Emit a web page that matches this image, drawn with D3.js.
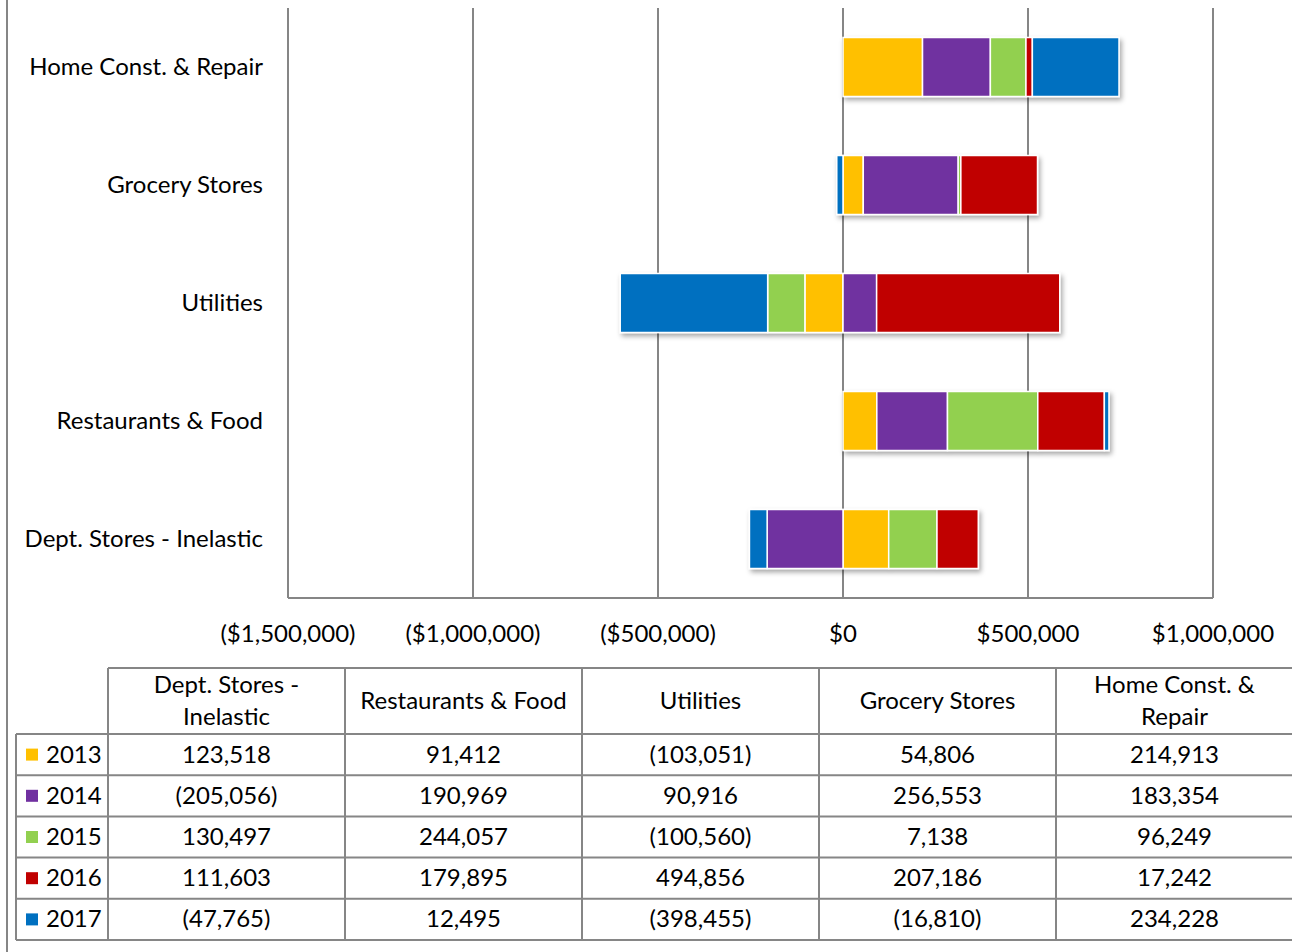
<!DOCTYPE html>
<html>
<head>
<meta charset="utf-8">
<script src="https://cdn.jsdelivr.net/npm/d3@7"></script>
<style>
  body { margin: 0; background: #fff; }
  svg text { font-family: Lato, "Open Sans", sans-serif; fill: #000; }
</style>
</head>
<body>
<svg id="chart" width="1292" height="952"></svg>
<script>
// categories top to bottom in the chart are reversed from table order
const categories = ["Dept. Stores - Inelastic", "Restaurants & Food", "Utilities", "Grocery Stores", "Home Const. & Repair"];
const years = ["2013", "2014", "2015", "2016", "2017"];
const colors = ["#FFC000", "#7030A0", "#92D050", "#C00000", "#0070C0"];

const v2013 = [123518, 91412, -103051, 54806, 214913];
const v2014 = [-205056, 190969, 90916, 256553, 183354];
const v2015 = [130497, 244057, -100560, 7138, 96249];
const v2016 = [111603, 179895, 494856, 207186, 17242];
const v2017 = [-47765, 12495, -398455, -16810, 234228];
const series = [v2013, v2014, v2015, v2016, v2017];

const tickValues = [-1500000, -1000000, -500000, 0, 500000, 1000000];

const svg = d3.select("#chart");
const fontSize = 24;

// table rows for stack
const rows = categories.map((c, i) => {
    const r = { cat: c };
    years.forEach((y, j) => r[y] = series[j][i]);
    return r;
});

const x = d3.scaleLinear().domain([-1500000, 1000000]).range([288, 1213]);
const y = d3.scaleBand().domain(categories.slice().reverse()).range([8, 598]).paddingInner(0.5).paddingOuter(0.25);

// drop shadow
const defs = svg.append("defs");
const f = defs.append("filter").attr("id", "shadow").attr("x", "-10%").attr("y", "-20%").attr("width", "120%").attr("height", "150%");
f.append("feDropShadow").attr("dx", 2).attr("dy", 3).attr("stdDeviation", 2.5).attr("flood-color", "#000").attr("flood-opacity", 0.35);

// outer border
svg.append("line").attr("x1", 7).attr("x2", 7).attr("y1", 0).attr("y2", 952)
    .attr("stroke", "#868686").attr("stroke-width", 2);

// gridlines
svg.append("g").selectAll("line").data(tickValues).join("line")
    .attr("x1", d => x(d)).attr("x2", d => x(d))
    .attr("y1", 8).attr("y2", 598)
    .attr("stroke", "#868686").attr("stroke-width", 2);

svg.append("line").attr("x1", 288).attr("x2", 1213).attr("y1", 598).attr("y2", 598)
    .attr("stroke", "#868686").attr("stroke-width", 2);

// tick labels
const fmt = d => d < 0 ? "($" + d3.format(",")(-d) + ")" : "$" + d3.format(",")(d);
svg.append("g").selectAll("text").data(tickValues).join("text")
    .attr("x", d => x(d)).attr("y", 642)
    .attr("text-anchor", "middle").attr("font-size", fontSize)
    .text(fmt);

// category labels
svg.append("g").selectAll("text").data(categories).join("text")
    .attr("x", 263).attr("y", d => y(d) + y.bandwidth() / 2 + 8)
    .attr("text-anchor", "end").attr("font-size", fontSize)
    .text(d => d);

// stacked bars
const stack = d3.stack().keys(years).offset(d3.stackOffsetDiverging);
const stacked = stack(rows);

const bars = svg.append("g").attr("filter", "url(#shadow)");
bars.selectAll("g").data(stacked).join("g")
    .attr("fill", (d, i) => colors[i])
    .selectAll("rect").data(d => d).join("rect")
    .attr("x", d => x(Math.min(d[0], d[1])))
    .attr("width", d => Math.abs(x(d[1]) - x(d[0])))
    .attr("y", d => y(d.data.cat))
    .attr("height", y.bandwidth())
    .attr("stroke", "#fff").attr("stroke-width", 1.5);

// data table
const tableTop = 668, headH = 66, rowH = 41.2;
const colX = [16, 108, 345, 582, 819, 1056, 1293];
const tbl = svg.append("g");
const lineColor = "#868686";

tbl.append("line").attr("x1", colX[1]).attr("x2", 1292).attr("y1", tableTop).attr("y2", tableTop)
    .attr("stroke", lineColor).attr("stroke-width", 2);
colX.slice(1).forEach(cx => {
    tbl.append("line").attr("x1", cx).attr("x2", cx).attr("y1", tableTop).attr("y2", tableTop + headH + rowH * 5)
        .attr("stroke", lineColor).attr("stroke-width", 2);
});
tbl.append("line").attr("x1", colX[0]).attr("x2", colX[0]).attr("y1", tableTop + headH).attr("y2", tableTop + headH + rowH * 5)
    .attr("stroke", lineColor).attr("stroke-width", 2);
d3.range(6).forEach(i => {
    const yy = tableTop + headH + rowH * i;
    tbl.append("line").attr("x1", colX[0]).attr("x2", 1292).attr("y1", yy).attr("y2", yy)
        .attr("stroke", lineColor).attr("stroke-width", 2);
});

// header text with wrapping
categories.forEach((c, i) => {
    const cx = (colX[i + 1] + colX[i + 2]) / 2;
    const t = tbl.append("text").attr("text-anchor", "middle").attr("font-size", fontSize);
    const words = c.split(" ");
    let lines = [], cur = [];
    words.forEach(w => {
        cur.push(w);
        t.text(cur.join(" "));
        if (t.node().getComputedTextLength() > 215 && cur.length > 1) {
            cur.pop();
            lines.push(cur.join(" "));
            cur = [w];
        }
    });
    lines.push(cur.join(" "));
    t.text(null);
    const y0 = tableTop + headH / 2 + 8 - (lines.length - 1) * 16;
    lines.forEach((l, k) => {
        t.append("tspan").attr("x", cx).attr("y", y0 + k * 32).text(l);
    });
});

// value rows
const valFmt = d => d < 0 ? "(" + d3.format(",")(-d) + ")" : d3.format(",")(d);
years.forEach((yr, j) => {
    const cy = tableTop + headH + rowH * j + rowH / 2;
    tbl.append("rect").attr("x", 26).attr("y", cy - 6).attr("width", 12).attr("height", 12).attr("fill", colors[j]);
    tbl.append("text").attr("x", 46).attr("y", cy + 8).attr("font-size", fontSize).text(yr);
    series[j].forEach((v, i) => {
        tbl.append("text").attr("x", (colX[i + 1] + colX[i + 2]) / 2).attr("y", cy + 8)
            .attr("text-anchor", "middle").attr("font-size", fontSize).text(valFmt(v));
    });
});
</script>
</body>
</html>
